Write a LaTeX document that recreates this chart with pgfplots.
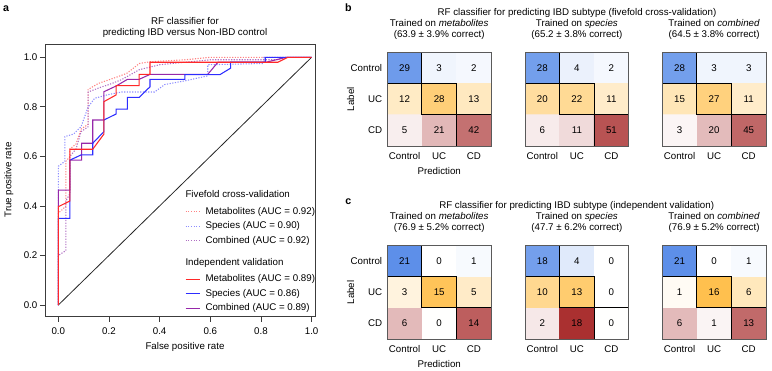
\documentclass[border=0pt]{standalone}
\usepackage{fontspec}
\setmainfont{Liberation Sans}
\usepackage{pgfplots}
\pgfplotsset{compat=1.18}
\usepackage{pgfplotstable}

\newcommand{\fs}{\fontsize{7.3}{8.3}\selectfont}

\definecolor{mred}{RGB}{255,40,40}
\definecolor{mblue}{RGB}{45,45,255}
\definecolor{mpurple}{RGB}{150,40,170}
\definecolor{dred}{RGB}{255,130,130}
\definecolor{dblue}{RGB}{140,140,255}
\definecolor{dpurple}{RGB}{175,110,195}
\definecolor{framegray}{RGB}{60,60,60}
\definecolor{hmframe}{RGB}{90,90,90}

\tikzset{cvl/.style={line width=0.8pt, dash pattern=on 0.9pt off 1.1pt}, ivl/.style={line width=0.8pt}}

\pgfplotsset{colormap={hm}{[1pt] rgb255(0pt)=(255,255,255) rgb255(20pt)=(85,138,232) rgb255(21pt)=(255,255,255) rgb255(41pt)=(255,165,0) rgb255(42pt)=(255,255,255) rgb255(62pt)=(160,25,25)}}

\pgfplotsset{
  every axis/.append style={font=\fs},
  tick label style={font=\fs},
  label style={font=\fs},
  title style={font=\fs},
  hm/.style={
    anchor=south west, scale only axis, width=77.8pt, height=70.3pt,
    xmin=-0.5, xmax=2.5, ymin=-0.5, ymax=2.5, y dir=reverse, enlargelimits=false,
    xtick={0,1,2}, xticklabels={Control,UC,CD}, ytick={0,1,2}, yticklabels={},
    major tick length=0pt, axis on top,
    axis line style={draw=hmframe, line width=0.7pt},
    colormap name=hm, point meta min=0, point meta max=3.1,
    xticklabel style={yshift=-2.5pt}, yticklabel style={xshift=-1.3pt},
    title style={align=center, at={(0.5,1)}, anchor=south, yshift=1pt},
    xlabel style={at={(axis description cs:0.5,-0.272)}, anchor=center},
    ylabel style={at={(axis description cs:-0.353,0.5)}, anchor=center},
  },
  hmcells/.style={matrix plot*, mesh/cols=3, point meta={\thisrow{r}*1.05+\thisrow{v}/\thisrow{n}}},
  hmtext/.style={draw=none, mark=none, nodes near coords, nodes near coords align={center},
    every node near coord/.append style={font=\fs}, point meta=explicit symbolic},
  diag/.style={black, line width=0.7pt, line join=miter},
}

% x = predicted, y = true label, v = count, n = row total, r = row index
\pgfplotstableread{
x y v n r
0 0 29 34 0
1 0 3 34 0
2 0 2 34 0
0 1 12 53 1
1 1 28 53 1
2 1 13 53 1
0 2 5 68 2
1 2 21 68 2
2 2 42 68 2
}\bmet
\pgfplotstableread{
x y v n r
0 0 28 34 0
1 0 4 34 0
2 0 2 34 0
0 1 20 53 1
1 1 22 53 1
2 1 11 53 1
0 2 6 68 2
1 2 11 68 2
2 2 51 68 2
}\bspe
\pgfplotstableread{
x y v n r
0 0 28 34 0
1 0 3 34 0
2 0 3 34 0
0 1 15 53 1
1 1 27 53 1
2 1 11 53 1
0 2 3 68 2
1 2 20 68 2
2 2 45 68 2
}\bcom
\pgfplotstableread{
x y v n r
0 0 21 22 0
1 0 0 22 0
2 0 1 22 0
0 1 3 23 1
1 1 15 23 1
2 1 5 23 1
0 2 6 20 2
1 2 0 20 2
2 2 14 20 2
}\cmet
\pgfplotstableread{
x y v n r
0 0 18 22 0
1 0 4 22 0
2 0 0 22 0
0 1 10 23 1
1 1 13 23 1
2 1 0 23 1
0 2 2 20 2
1 2 18 20 2
2 2 0 20 2
}\cspe
\pgfplotstableread{
x y v n r
0 0 21 22 0
1 0 0 22 0
2 0 1 22 0
0 1 1 23 1
1 1 16 23 1
2 1 6 23 1
0 2 6 20 2
1 2 1 20 2
2 2 13 20 2
}\ccom

\begin{document}
\fs
\begin{tikzpicture}[font=\fs]
\path[use as bounding box] (0pt,0pt) rectangle (579pt,278.25pt);

% ---------------- panel a ----------------
\node[font=\fontsize{8}{9}\selectfont\bfseries] at (4.5pt,272pt) {a};
\node[font=\fs, align=center] at (138.75pt,257.85pt) {RF classifier for\\predicting IBD versus Non-IBD control};
\begin{axis}[
  at={(33.75pt,40.725pt)}, anchor=south west, scale only axis,
  width=202.5pt, height=204.3pt,
  xmin=-0.0525, xmax=1.0134, ymin=-0.047, ymax=1.0525,
  xtick={0,0.2,0.4,0.6,0.8,1}, ytick={0,0.2,0.4,0.6,0.8,1},
  tick pos=left, tick align=outside, major tick length=3.75pt,
  axis line style={draw=framegray, line width=0.7pt},
  every tick/.style={framegray, line width=0.6pt},
  /pgf/number format/assume math mode=true,
  xticklabel style={/pgf/number format/fixed, /pgf/number format/fixed zerofill, /pgf/number format/precision=1, yshift=-1.5pt},
  yticklabel style={/pgf/number format/fixed, /pgf/number format/fixed zerofill, /pgf/number format/precision=1, xshift=0.6pt},
  xlabel={False positive rate}, ylabel={True positive rate},
  xlabel style={at={(axis description cs:0.5185,-0.110)}, anchor=center},
  ylabel style={at={(axis description cs:-0.134,0.502)}, anchor=center},
  legend style={at={(0.5185,0.4633)}, anchor=north west, draw=none, fill=none, font=\fs,
    inner sep=0pt, outer sep=0pt, row sep=4.1pt,
    nodes={inner sep=0pt, outer sep=0pt, anchor=west, text height=5.3pt, text depth=1.5pt}},
  legend cell align=left,
]
\addplot[forget plot, black!85, line width=0.6pt] coordinates {(0,0)(1,1)};
% fivefold cross-validation (dotted)
\addplot[forget plot, dred, cvl] coordinates {
(0,0)(0,0.37)(0.03,0.40)(0.03,0.58)(0.046,0.60)(0.046,0.63)(0.07,0.65)(0.09,0.71)(0.118,0.73)(0.118,0.87)(0.157,0.894)(0.23,0.92)(0.27,0.935)(0.32,0.975)(0.362,0.982)(0.5,0.99)(0.6,1)(1,1)};
\addplot[forget plot, dblue, cvl] coordinates {
(0,0)(0,0.56)(0.026,0.58)(0.026,0.68)(0.06,0.69)(0.09,0.72)(0.118,0.80)(0.144,0.835)(0.2,0.85)(0.25,0.86)(0.38,0.86)(0.42,0.89)(0.5,0.905)(0.59,0.925)(0.59,0.97)(0.81,0.975)(0.81,1)(1,1)};
\addplot[forget plot, dpurple, cvl] coordinates {
(0,0)(0,0.2)(0.03,0.22)(0.03,0.42)(0.046,0.45)(0.046,0.6)(0.07,0.63)(0.09,0.70)(0.118,0.72)(0.118,0.86)(0.17,0.88)(0.2,0.89)(0.25,0.91)(0.32,0.95)(0.4,0.97)(0.6,0.99)(0.86,0.99)(0.9,1)(1,1)};
% independent validation (solid)
\addplot[forget plot, mpurple, ivl] coordinates {
(0,0)(0,0.464)(0.046,0.464)(0.046,0.585)(0.092,0.585)(0.092,0.653)(0.136,0.653)(0.136,0.747)(0.18,0.747)(0.18,0.861)(0.228,0.884)(0.273,0.911)(0.319,0.911)(0.362,0.931)(0.59,0.931)(0.63,0.98)(0.82,0.98)(0.86,0.99)(0.9,1)(1,1)};
\addplot[forget plot, mblue, ivl] coordinates {
(0,0)(0,0.35)(0.046,0.35)(0.046,0.585)(0.09,0.606)(0.136,0.606)(0.136,0.653)(0.18,0.70)(0.18,0.747)(0.228,0.771)(0.228,0.791)(0.273,0.791)(0.273,0.838)(0.319,0.838)(0.362,0.881)(0.362,0.911)(0.5,0.911)(0.5,0.93)(0.638,0.93)(0.68,0.956)(0.68,0.98)(0.817,0.98)(0.817,1)(1,1)};
\addplot[forget plot, mred, ivl] coordinates {
(0,0)(0,0.397)(0.046,0.42)(0.046,0.629)(0.136,0.629)(0.18,0.69)(0.18,0.821)(0.228,0.848)(0.228,0.886)(0.319,0.886)(0.319,0.931)(0.362,0.931)(0.362,0.98)(0.867,0.98)(0.906,1)(1,1)};
% legend
\addlegendimage{empty legend}
\addlegendentry[text depth=3.0pt]{\hspace*{-15pt}Fivefold cross-validation}
\addlegendimage{legend image code/.code={\draw[draw=dred, cvl] (0pt,0pt) -- (10.7pt,0pt); \path[draw=none] (15pt,0pt);}}
\addlegendentry{Metabolites (AUC = 0.92)}
\addlegendimage{legend image code/.code={\draw[draw=dblue, cvl] (0pt,0pt) -- (10.7pt,0pt); \path[draw=none] (15pt,0pt);}}
\addlegendentry{Species (AUC = 0.90)}
\addlegendimage{legend image code/.code={\draw[draw=dpurple, cvl] (0pt,0pt) -- (10.7pt,0pt); \path[draw=none] (15pt,0pt);}}
\addlegendentry{Combined (AUC = 0.92)}
\addlegendimage{empty legend}
\addlegendentry[text height=11.4pt, text depth=2.6pt]{\hspace*{-15pt}Independent validation}
\addlegendimage{legend image code/.code={\draw[draw=mred, ivl] (0pt,0pt) -- (10.7pt,0pt); \path[draw=none] (15pt,0pt);}}
\addlegendentry{Metabolites (AUC = 0.89)}
\addlegendimage{legend image code/.code={\draw[draw=mblue, ivl] (0pt,0pt) -- (10.7pt,0pt); \path[draw=none] (15pt,0pt);}}
\addlegendentry{Species (AUC = 0.86)}
\addlegendimage{legend image code/.code={\draw[draw=mpurple, ivl] (0pt,0pt) -- (10.7pt,0pt); \path[draw=none] (15pt,0pt);}}
\addlegendentry{Combined (AUC = 0.89)}
\end{axis}

% ---------------- panel b ----------------
\node[font=\fontsize{8}{9}\selectfont\bfseries] at (261.2pt,272.8pt) {b};
\node[font=\fs] at (432.75pt,268.7pt) {RF classifier for predicting IBD subtype (fivefold cross-validation)};

\begin{axis}[hm, at={(290.5pt,168.75pt)}, yticklabels={Control,UC,CD},
  xlabel={Prediction}, ylabel={Label},
  title={Trained on \textit{metabolites}\\(63.9 ± 3.9\% correct)}]
\addplot[hmcells] table {\bmet};
\addplot[hmtext] table[x=x,y=y,meta=v] {\bmet};
\addplot[diag] coordinates {(-0.5,-0.5)(0.5,-0.5)(0.5,0.5)(-0.5,0.5)(-0.5,-0.5)};
\addplot[diag] coordinates {(0.5,0.5)(1.5,0.5)(1.5,1.5)(0.5,1.5)(0.5,0.5)};
\addplot[diag] coordinates {(1.5,1.5)(2.5,1.5)(2.5,2.5)(1.5,2.5)(1.5,1.5)};
\end{axis}
\begin{axis}[hm, at={(393.75pt,168.75pt)},
  title={Trained on \textit{species}\\(65.2 ± 3.8\% correct)}]
\addplot[hmcells] table {\bspe};
\addplot[hmtext] table[x=x,y=y,meta=v] {\bspe};
\addplot[diag] coordinates {(-0.5,-0.5)(0.5,-0.5)(0.5,0.5)(-0.5,0.5)(-0.5,-0.5)};
\addplot[diag] coordinates {(0.5,0.5)(1.5,0.5)(1.5,1.5)(0.5,1.5)(0.5,0.5)};
\addplot[diag] coordinates {(1.5,1.5)(2.5,1.5)(2.5,2.5)(1.5,2.5)(1.5,1.5)};
\end{axis}
\begin{axis}[hm, at={(496.7pt,168.75pt)},
  title={Trained on \textit{combined}\\(64.5 ± 3.8\% correct)}]
\addplot[hmcells] table {\bcom};
\addplot[hmtext] table[x=x,y=y,meta=v] {\bcom};
\addplot[diag] coordinates {(-0.5,-0.5)(0.5,-0.5)(0.5,0.5)(-0.5,0.5)(-0.5,-0.5)};
\addplot[diag] coordinates {(0.5,0.5)(1.5,0.5)(1.5,1.5)(0.5,1.5)(0.5,0.5)};
\addplot[diag] coordinates {(1.5,1.5)(2.5,1.5)(2.5,2.5)(1.5,2.5)(1.5,1.5)};
\end{axis}

% ---------------- panel c ----------------
\node[font=\fontsize{8}{9}\selectfont\bfseries] at (261.2pt,126.9pt) {c};
\node[font=\fs] at (432.5pt,124.0pt) {RF classifier for predicting IBD subtype (independent validation)};

\begin{axis}[hm, at={(290.5pt,24pt)}, height=70pt, yticklabels={Control,UC,CD},
  xlabel={Prediction}, ylabel={Label},
  title={Trained on \textit{metabolites}\\(76.9 ± 5.2\% correct)}]
\addplot[hmcells] table {\cmet};
\addplot[hmtext] table[x=x,y=y,meta=v] {\cmet};
\addplot[diag] coordinates {(-0.5,-0.5)(0.5,-0.5)(0.5,0.5)(-0.5,0.5)(-0.5,-0.5)};
\addplot[diag] coordinates {(0.5,0.5)(1.5,0.5)(1.5,1.5)(0.5,1.5)(0.5,0.5)};
\addplot[diag] coordinates {(1.5,1.5)(2.5,1.5)(2.5,2.5)(1.5,2.5)(1.5,1.5)};
\end{axis}
\begin{axis}[hm, at={(393.75pt,24pt)}, height=70pt,
  title={Trained on \textit{species}\\(47.7 ± 6.2\% correct)}]
\addplot[hmcells] table {\cspe};
\addplot[hmtext] table[x=x,y=y,meta=v] {\cspe};
\addplot[diag] coordinates {(-0.5,-0.5)(0.5,-0.5)(0.5,0.5)(-0.5,0.5)(-0.5,-0.5)};
\addplot[diag] coordinates {(0.5,0.5)(1.5,0.5)(1.5,1.5)(0.5,1.5)(0.5,0.5)};
\addplot[diag] coordinates {(1.5,1.5)(2.5,1.5)(2.5,2.5)(1.5,2.5)(1.5,1.5)};
\end{axis}
\begin{axis}[hm, at={(496.7pt,24pt)}, height=70pt,
  title={Trained on \textit{combined}\\(76.9 ± 5.2\% correct)}]
\addplot[hmcells] table {\ccom};
\addplot[hmtext] table[x=x,y=y,meta=v] {\ccom};
\addplot[diag] coordinates {(-0.5,-0.5)(0.5,-0.5)(0.5,0.5)(-0.5,0.5)(-0.5,-0.5)};
\addplot[diag] coordinates {(0.5,0.5)(1.5,0.5)(1.5,1.5)(0.5,1.5)(0.5,0.5)};
\addplot[diag] coordinates {(1.5,1.5)(2.5,1.5)(2.5,2.5)(1.5,2.5)(1.5,1.5)};
\end{axis}
\end{tikzpicture}
\end{document}
